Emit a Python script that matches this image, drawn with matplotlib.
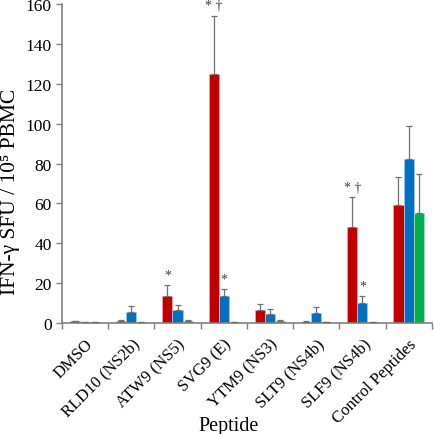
import numpy as np
import matplotlib.pyplot as plt

plt.rcParams["font.family"] = ["Liberation Serif", "DejaVu Serif"]

peptides = ["DMSO", "RLD10 (NS2b)", "ATW9 (NS5)", "SVG9 (E)", "YTM9 (NS3)",
            "SLT9 (NS4b)", "SLF9 (NS4b)", "Control Peptides"]
red_vals = [1.0, 1.0, 13.5, 125.0, 6.5, 0.5, 48.0, 59.0]
red_err = [0.0, 0.5, 5.5, 29.0, 3.0, 0.3, 15.0, 14.0]
blue_vals = [0.5, 5.5, 6.5, 13.5, 4.5, 5.0, 10.0, 82.5]
blue_err = [0.0, 3.0, 2.5, 3.5, 2.5, 3.0, 3.5, 16.5]
green_vals = [0.3, 0.5, 1.0, 0.5, 1.2, 0.5, 0.5, 55.0]
green_err = [0.0, 0.0, 0.3, 0.0, 0.2, 0.0, 0.0, 20.0]
# (series index, category index, label)
marks = [(0, 2, "*"), (0, 3, "* \u2020"), (1, 3, "*"), (0, 6, "* \u2020"), (1, 6, "*")]

fig = plt.figure(figsize=(4.35, 4.35), dpi=100)
ax = fig.add_axes([0.1425, 0.255, 0.85, 0.7335])

x = np.arange(len(peptides))
w = 0.22
series = [(red_vals, red_err, "#C00000", "#F4A0A0"),
          (blue_vals, blue_err, "#0070C0", "#9CC8EC"),
          (green_vals, green_err, "#00B050", "#9EE0B8")]
tops = []
for i, (vals, err, col, edge) in enumerate(series):
    pos = x + (i - 1) * w
    ax.bar(pos, vals, width=w, color=col, edgecolor=edge, linewidth=0.6, zorder=2)
    ax.errorbar(pos, vals, yerr=[np.zeros(len(vals)), err], fmt="none",
                ecolor="#707070", elinewidth=0.9, capsize=2.0, capthick=0.9, zorder=3)
    tops.append(np.array(vals) + np.array(err))

for s, c, lab in marks:
    ax.text(x[c] + (s - 1) * w, tops[s][c] + 1.8, lab, ha="center", va="bottom",
            fontsize=10, color="#404040")

ax.set_xlim(-0.5, len(peptides) - 0.5)
ax.set_ylim(0, 160)
ax.set_yticks(np.arange(0, 161, 20))
ax.set_xticks(np.arange(len(peptides) + 1) - 0.5)
ax.set_xticklabels([])
ax.set_xticks(x, minor=True)
ax.set_xticklabels(peptides, minor=True, rotation=45, ha="right",
                   rotation_mode="anchor", fontsize=12)
ax.tick_params(axis="x", which="minor", length=0, pad=9)
ax.tick_params(axis="x", which="major", length=4, width=1, color="#808080")
ax.tick_params(axis="y", length=4, width=1, color="#808080", labelsize=12.5)

for sp in ["top", "right"]:
    ax.spines[sp].set_visible(False)
for sp in ["left", "bottom"]:
    ax.spines[sp].set_color("#808080")
    ax.spines[sp].set_linewidth(1.2)

ax.set_ylabel("IFN-\u03b3 SFU / 10\u2075 PBMC", fontsize=15.5, va="center")
ax.yaxis.set_label_coords(-0.14, 0.415)
ax.set_xlabel("Peptide", fontsize=14.5, va="center")
ax.xaxis.set_label_coords(0.45, -0.322)

fig.savefig("out.png", dpi=100)
